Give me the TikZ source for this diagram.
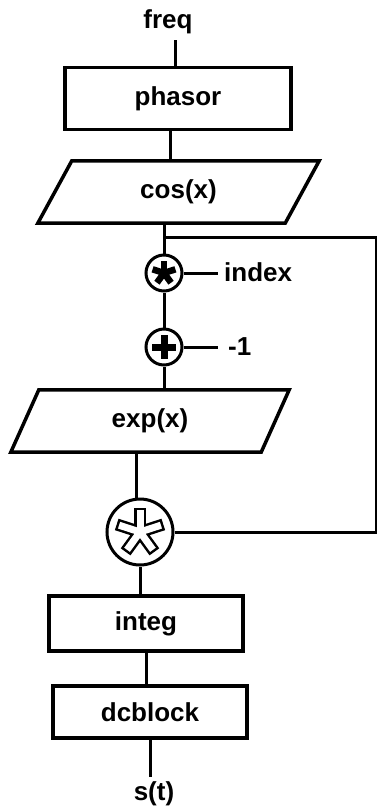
\documentclass[tikz,border=0pt]{standalone}
\usepackage{fontspec}
\setmainfont{Liberation Sans}
\usetikzlibrary{calc}

\begin{document}
\begin{tikzpicture}[x=1pt,y=-1pt,
  wire/.style={line width=3pt},
  blk/.style={draw,line width=3.5pt,inner sep=0pt},
  lbl/.style={inner sep=0pt,font=\fontsize{26}{30}\selectfont\bfseries},
  opnode/.style={circle,draw,line width=3pt,inner sep=0pt,minimum size=#1}]

\useasboundingbox (0,0) rectangle (377,807);

\def\sk{17}

% Bloecke
\node[lbl] (freq) at (168,22) {freq};
\node[blk,lbl,minimum width=226,minimum height=62] (phasor) at (178,98.5) {phasor};
\node[lbl,minimum width=247,minimum height=62] (cosx) at (178.5,192) {cos(x)};
\node[opnode=36] (mulidx) at (164,273) {};
\node[lbl,anchor=west] (index) at (224,272) {index};
\node[opnode=36] (addone) at (164,347) {};
\node[lbl,anchor=west] (minusone) at (228,347) {-1};
\node[lbl,minimum width=250,minimum height=62] (expx) at (150,421) {exp(x)};
\node[opnode=66] (mulfb) at (140,532) {};
\node[blk,lbl,minimum width=194,minimum height=55] (integ) at (146,623.5) {integ};
\node[blk,lbl,minimum width=194,minimum height=52] (dcblock) at (150,712) {dcblock};
\node[lbl] (st) at (154,794) {s(t)};

% Parallelogramme
\draw[line width=3.5pt] ([xshift=\sk]cosx.north west) -- ([xshift=\sk]cosx.north east)
  -- ([xshift=-\sk]cosx.south east) -- ([xshift=-\sk]cosx.south west) -- cycle;
\draw[line width=3.5pt] ([xshift=14]expx.north west) -- ([xshift=14]expx.north east)
  -- ([xshift=-14]expx.south east) -- ([xshift=-14]expx.south west) -- cycle;

% Symbole
\foreach \a in {-90,-18,-162,54,126}
  \draw[line width=6.5pt] (mulidx.center) -- ++(\a:12);
\draw[line width=7pt] ($(addone)+(-12,0)$) -- ($(addone)+(12,0)$);
\draw[line width=7pt] ($(addone)+(0,-12)$) -- ($(addone)+(0,12)$);
\foreach \a in {-90,-18,-162,54,126}
  \draw[line width=12pt] (mulfb.center) -- ++(\a:24.5);
\foreach \a in {-90,-18,-162,54,126}
  \draw[line width=7pt,white] (mulfb.center) -- ++(\a:22);

% Verbindungen
\draw[wire] ([xshift=-3]phasor.north) -- ([xshift=-3]phasor.north |- 0,40);
\draw[wire] ([xshift=-8]phasor.south) -- ([xshift=-8]phasor.south |- cosx.north);
\draw[wire] (mulidx.north |- cosx.south) -- (mulidx.north);
\draw[wire] (mulidx.east) -- ++(34,0);
\draw[wire] (mulidx) -- (addone);
\draw[wire] (addone.east) -- ++(34,0);
\draw[wire] (addone.south) -- (addone.south |- expx.north);
\draw[wire] ([xshift=-4]mulfb.north |- expx.south) -- ([xshift=-4]mulfb.north);
\draw[wire] (mulfb.south) -- (mulfb.south |- integ.north);
\draw[wire] (integ.south) -- (integ.south |- dcblock.north);
\draw[wire] (dcblock.south) -- ++(0,37);

% Rueckfuehrung
\coordinate (fb) at (376,237);
\draw[wire] (mulidx |- fb) -- (fb) |- (mulfb.east);

\end{tikzpicture}
\end{document}
